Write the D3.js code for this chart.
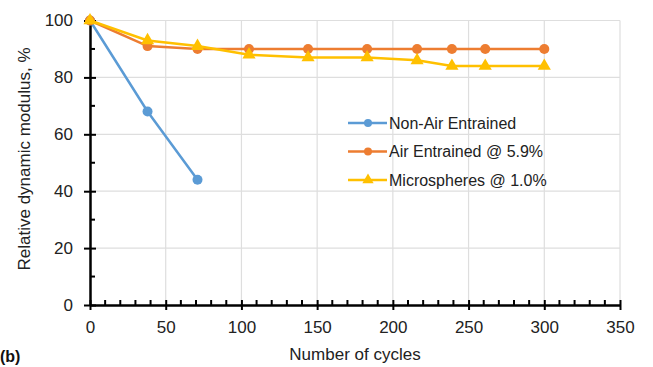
<!DOCTYPE html>
<html>
<head>
<meta charset="utf-8">
<script src="https://cdn.jsdelivr.net/npm/d3@7/dist/d3.min.js"></script>
<style>
  html, body { margin: 0; padding: 0; background: #fff; }
  svg { display: block; font-family: "Liberation Sans", Arial, sans-serif; }
</style>
</head>
<body>
<div id="chart"></div>
<script>
// data
const nonAirCycles = [0, 38, 71];
const nonAirValues = [100, 68, 44];
const airCycles = [0, 38, 71, 105, 144, 183, 216, 239, 261, 300];
const airValues = [100, 91, 90, 90, 90, 90, 90, 90, 90, 90];
const microCycles = [0, 38, 71, 105, 144, 183, 216, 239, 261, 300];
const microValues = [100, 93, 91, 88, 87, 87, 86, 84, 84, 84];
const xTicks = [0, 50, 100, 150, 200, 250, 300, 350];
const yTicks = [0, 20, 40, 60, 80, 100];
const seriesNames = ['Non-Air Entrained', 'Air Entrained @ 5.9%', 'Microspheres @ 1.0%'];

const W = 653, H = 367;
const m = { left: 90, right: 33, top: 20, bottom: 62 };

const series = [
  { name: seriesNames[0], xs: nonAirCycles, ys: nonAirValues, color: '#5b9bd5', marker: 'circle' },
  { name: seriesNames[1], xs: airCycles, ys: airValues, color: '#ed7d31', marker: 'circle' },
  { name: seriesNames[2], xs: microCycles, ys: microValues, color: '#ffc000', marker: 'triangle' }
];

const svg = d3.select('#chart').append('svg').attr('width', W).attr('height', H);

const x = d3.scaleLinear().domain([0, 350]).range([m.left, W - m.right]);
const y = d3.scaleLinear().domain([0, 100]).range([H - m.bottom, m.top + 0.5]);

// grid
const grid = svg.append('g');
grid.selectAll('line.v').data(xTicks.slice(1)).join('line')
  .attr('x1', d => x(d)).attr('x2', d => x(d)).attr('y1', y(0)).attr('y2', y(100))
  .attr('stroke', '#dedede').attr('stroke-width', 1.2);
grid.selectAll('line.h').data(yTicks.slice(1)).join('line')
  .attr('x1', x(0)).attr('x2', x(350)).attr('y1', d => y(d)).attr('y2', d => y(d))
  .attr('stroke', '#dedede').attr('stroke-width', 1.2);

// minor ticks (inside)
svg.append('g').selectAll('line').data(d3.range(10, 350, 10).filter(v => v % 50)).join('line')
  .attr('x1', d => x(d)).attr('x2', d => x(d)).attr('y1', y(0)).attr('y2', y(0) - 5)
  .attr('stroke', '#000').attr('stroke-width', 2);
svg.append('g').selectAll('line').data(d3.range(10, 100, 20)).join('line')
  .attr('y1', d => y(d)).attr('y2', d => y(d)).attr('x1', x(0)).attr('x2', x(0) + 5)
  .attr('stroke', '#000').attr('stroke-width', 2);

// axes, major ticks cross the axis
const xAxis = svg.append('g').attr('transform', `translate(0,${y(0)})`)
  .call(d3.axisBottom(x).tickValues(xTicks).tickSizeInner(5).tickSizeOuter(0).tickPadding(10));
xAxis.selectAll('.tick line').attr('y1', -5).attr('stroke-width', 2);
xAxis.select('.domain').attr('stroke-width', 2.5);
xAxis.selectAll('text').attr('font-size', 17).attr('fill', '#222').attr('dy', '0.78em');

const yAxis = svg.append('g').attr('transform', `translate(${x(0)},0)`)
  .call(d3.axisLeft(y).tickValues(yTicks).tickSizeInner(6).tickSizeOuter(0).tickPadding(11));
yAxis.selectAll('.tick line').attr('x1', 6).attr('stroke-width', 2);
yAxis.select('.domain').attr('stroke-width', 2.5);
yAxis.selectAll('text').attr('font-size', 17).attr('fill', '#222');

// series
const tri = d3.symbol().type(d3.symbolTriangle).size(75);
series.forEach(s => {
  const pts = s.xs.map((v, i) => [v, s.ys[i]]);
  svg.append('path').datum(pts)
    .attr('fill', 'none').attr('stroke', s.color).attr('stroke-width', 2.5)
    .attr('d', d3.line().x(d => x(d[0])).y(d => y(d[1])));
  if (s.marker === 'circle') {
    svg.append('g').selectAll('circle').data(pts).join('circle')
      .attr('cx', d => x(d[0])).attr('cy', d => y(d[1])).attr('r', 5)
      .attr('fill', s.color);
  } else {
    svg.append('g').selectAll('path').data(pts).join('path')
      .attr('d', tri).attr('transform', d => `translate(${x(d[0])},${y(d[1])})`)
      .attr('fill', s.color);
  }
});

// legend
const lg = svg.append('g').attr('transform', 'translate(348,123)');
series.forEach((s, i) => {
  const row = lg.append('g').attr('transform', `translate(0,${i * 28.5})`);
  row.append('line').attr('x1', 0).attr('x2', 39).attr('y1', 0).attr('y2', 0)
    .attr('stroke', s.color).attr('stroke-width', 2.5);
  if (s.marker === 'circle') {
    row.append('circle').attr('cx', 20).attr('cy', 0).attr('r', 4).attr('fill', s.color);
  } else {
    row.append('path').attr('d', d3.symbol().type(d3.symbolTriangle).size(55)).attr('transform', 'translate(20,0)').attr('fill', s.color);
  }
  row.append('text').attr('x', 41).attr('y', 0).attr('dy', '0.35em')
    .attr('font-size', 16).attr('fill', '#222').text(s.name);
});

// axis titles
svg.append('text').attr('x', 355).attr('y', 360).attr('text-anchor', 'middle')
  .attr('font-size', 17).attr('fill', '#222').text('Number of cycles');
svg.append('text').attr('transform', 'translate(30,159) rotate(-90)').attr('text-anchor', 'middle')
  .attr('font-size', 17).attr('fill', '#222').text('Relative dynamic modulus, %');
svg.append('text').attr('x', 0).attr('y', 362).attr('font-size', 16).attr('font-weight', 'bold')
  .attr('fill', '#111').text('(b)');
</script>
</body>
</html>
